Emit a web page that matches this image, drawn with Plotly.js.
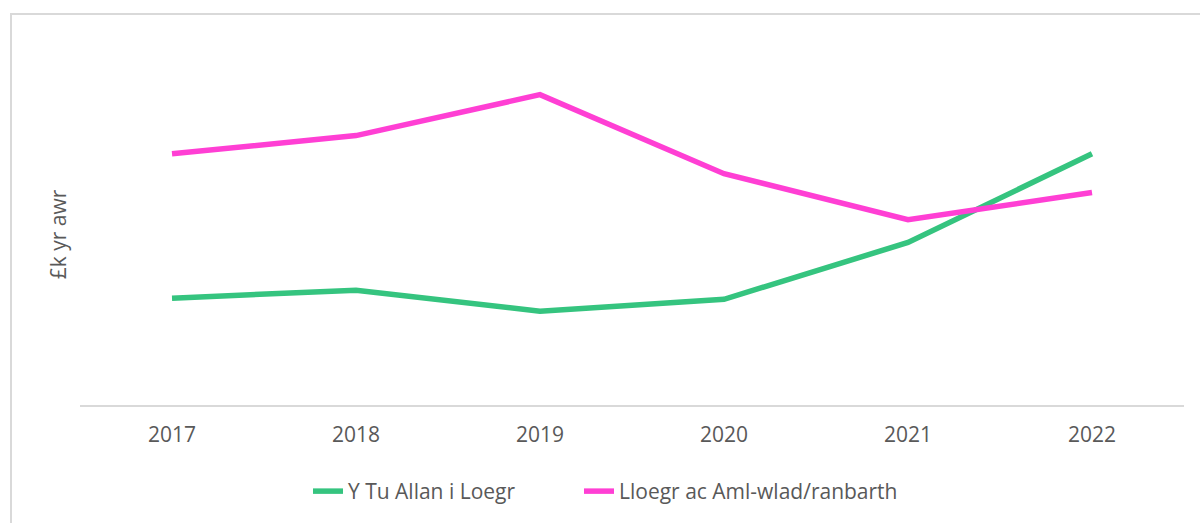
<!DOCTYPE html>
<html>
<head>
<meta charset="utf-8">
<script src="https://cdn.plot.ly/plotly-3.0.1.min.js"></script>
<style>
  html, body { margin: 0; padding: 0; background: #fff; }
  #wrap { position: relative; width: 1200px; height: 523px; overflow: hidden; }
  #chart { position: absolute; left: 0; top: 0; width: 1200px; height: 523px; }
  #frame { position: absolute; left: 10px; top: 13px; width: 1200px; height: 600px;
           border-left: 2px solid #d9d9d9; border-top: 2px solid #d9d9d9; pointer-events: none; }
</style>
</head>
<body>
<div id="wrap">
  <div id="chart"></div>
  <div id="frame"></div>
</div>
<script>
// values (£k per hour, axis has no tick labels)
const years = ['2017', '2018', '2019', '2020', '2021', '2022'];
const outsideEngland = [18.8, 20.2, 16.5, 18.6, 28.6, 44.2];
const englandMulti = [44.2, 47.4, 54.6, 40.7, 32.6, 37.4];

const seriesNames = ['Y Tu Allan i Loegr', 'Lloegr ac Aml-wlad/ranbarth'];
const seriesColors = ['#35c47f', '#ff3fd4'];
const legendIds = ['legend', 'legend2'];

const data = [outsideEngland, englandMulti].map((ys, i) => ({
  x: years, y: ys, type: 'scatter', mode: 'lines', name: seriesNames[i],
  legend: legendIds[i],
  line: { color: seriesColors[i], width: 5.5 },
}));

const legendStyle = (x) => ({
  orientation: 'h', x: x, xanchor: 'left', xref: 'paper',
  y: -0.19, yanchor: 'top', font: { size: 21, color: '#595959' },
  bgcolor: 'rgba(0,0,0,0)',
});

const layout = {
  width: 1200, height: 523,
  paper_bgcolor: '#ffffff', plot_bgcolor: '#ffffff',
  font: { family: 'Open Sans, Noto Sans, sans-serif', color: '#595959', size: 21 },
  margin: { l: 80, r: 16, t: 64, b: 117 },
  showlegend: true,
  legend: legendStyle(0.2065),
  legend2: legendStyle(0.452),
  xaxis: {
    type: 'category', range: [-0.5, 5.5],
    showline: true, linecolor: '#d9d9d9', linewidth: 2,
    showgrid: false, zeroline: false, ticks: '',
    tickfont: { size: 21, color: '#595959' }, ticklabelstandoff: 10,
  },
  yaxis: {
    range: [0, 60], showgrid: false, zeroline: false, showline: false,
    showticklabels: false, ticks: '',
    title: { text: '£k yr awr', font: { size: 21, color: '#595959' }, standoff: 6 },
  },
};

Plotly.newPlot('chart', data, layout, { displayModeBar: false, staticPlot: true });
</script>
</body>
</html>
